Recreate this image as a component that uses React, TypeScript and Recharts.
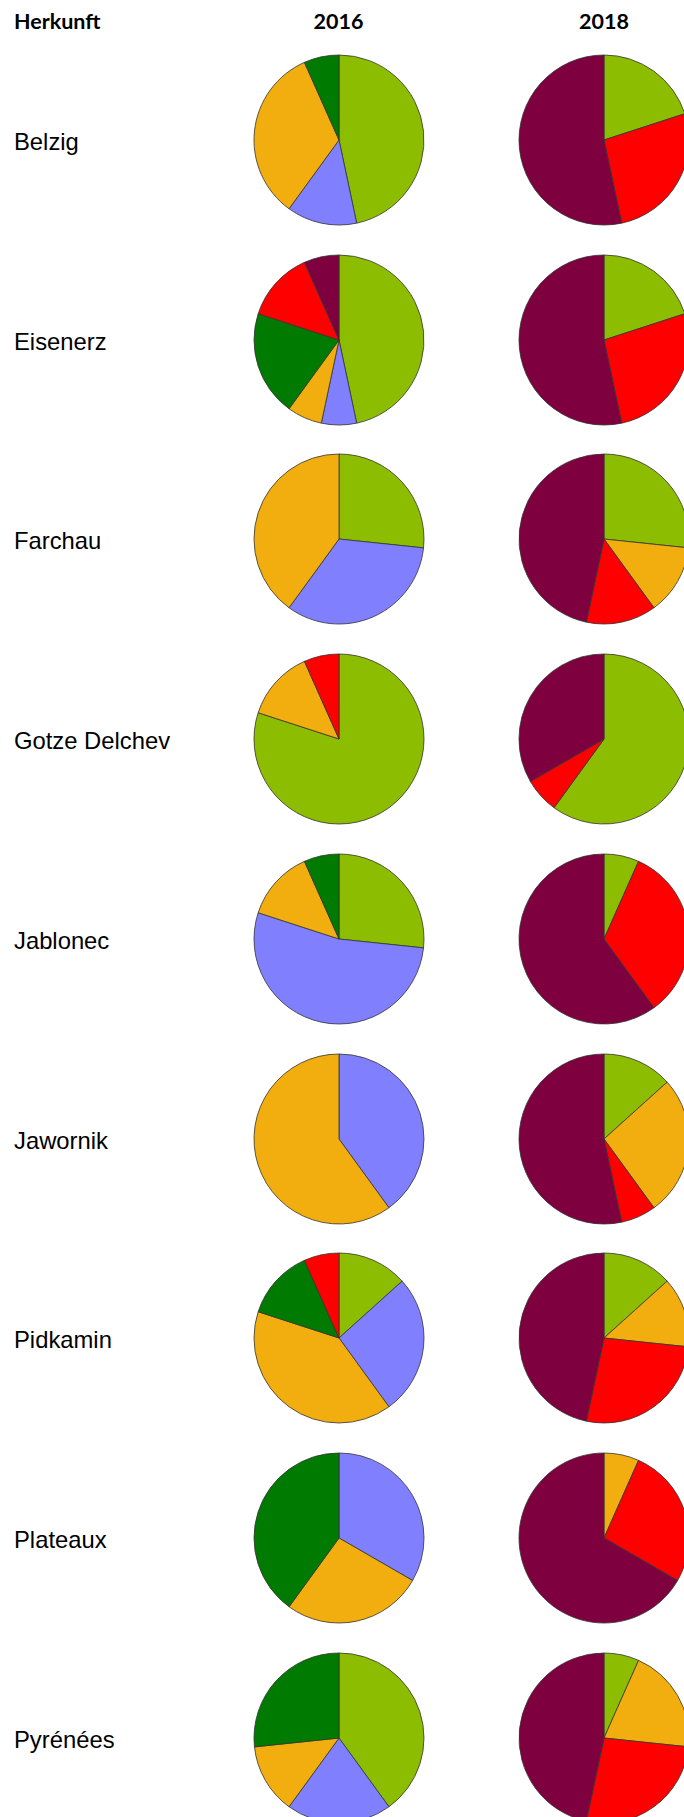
import React from "react";
import { PieChart, Pie, Cell } from "recharts";

const herkunft = [
  "Belzig",
  "Eisenerz",
  "Farchau",
  "Gotze Delchev",
  "Jablonec",
  "Jawornik",
  "Pidkamin",
  "Plateaux",
  "Pyrénées",
];

const jahre = ["2016", "2018"];

const klassen = ["Klasse 1", "Klasse 2", "Klasse 3", "Klasse 4", "Klasse 5", "Klasse 6"];
const farben = ["#8CBD00", "#8080FF", "#F2AE0E", "#007A00", "#FF0000", "#7F003F"];

// 2016, one value per Herkunft
const hellgruen2016 = [7, 7, 4, 12, 4, 0, 2, 0, 6];
const blau2016 = [2, 1, 5, 0, 8, 6, 4, 5, 3];
const orange2016 = [5, 1, 6, 2, 2, 9, 6, 4, 2];
const dunkelgruen2016 = [1, 3, 0, 0, 1, 0, 2, 6, 4];
const rot2016 = [0, 2, 0, 1, 0, 0, 1, 0, 0];
const bordeaux2016 = [0, 1, 0, 0, 0, 0, 0, 0, 0];

// 2018
const hellgruen2018 = [3, 3, 4, 9, 1, 2, 2, 0, 1];
const blau2018 = [0, 0, 0, 0, 0, 0, 0, 0, 0];
const orange2018 = [0, 0, 2, 0, 0, 4, 2, 1, 3];
const dunkelgruen2018 = [0, 0, 0, 0, 0, 0, 0, 0, 0];
const rot2018 = [4, 4, 2, 1, 5, 1, 4, 4, 4];
const bordeaux2018 = [8, 8, 7, 5, 9, 8, 7, 10, 7];

const serien: Record<string, number[][]> = {
  "2016": [hellgruen2016, blau2016, orange2016, dunkelgruen2016, rot2016, bordeaux2016],
  "2018": [hellgruen2018, blau2018, orange2018, dunkelgruen2018, rot2018, bordeaux2018],
};

function sliceData(jahr: string, row: number) {
  return serien[jahr]
    .map((s, k) => ({ name: klassen[k], value: s[row], fill: farben[k] }))
    .filter((d) => d.value > 0);
}

const ROW_TOP = 40;
const ROW_STEP = 199.7;
const PIE_BOX = 200;
const colCenters = [338.5, 604];

function OnePie({ jahr, row }: { jahr: string; row: number }) {
  const data = sliceData(jahr, row);
  return (
    <PieChart width={PIE_BOX} height={PIE_BOX} margin={{ top: 0, right: 0, bottom: 0, left: 0 }}>
      <Pie
        data={data}
        dataKey="value"
        nameKey="name"
        cx="50%"
        cy="50%"
        outerRadius={85}
        startAngle={90}
        endAngle={-270}
        stroke="#333"
        strokeWidth={0.8}
        isAnimationActive={false}
      >
        {data.map((d) => (
          <Cell key={d.name} fill={d.fill} />
        ))}
      </Pie>
    </PieChart>
  );
}

export default function App() {
  return (
    <div
      style={{
        position: "absolute",
        left: 0,
        top: 0,
        width: 684,
        height: 1817,
        overflow: "hidden",
        background: "#fff",
      }}
    >
      <div
        style={{
          position: "absolute",
          left: 14,
          top: 7,
          fontFamily: "Lato, sans-serif",
          fontWeight: 700,
          fontSize: 21.5,
          lineHeight: "28px",
          color: "#000",
        }}
      >
        Herkunft
      </div>
      {jahre.map((j, c) => (
        <div
          key={j}
          style={{
            position: "absolute",
            left: colCenters[c] - 50,
            width: 100,
            top: 7,
            textAlign: "center",
            fontFamily: "Lato, sans-serif",
            fontWeight: 700,
            fontSize: 21.5,
            lineHeight: "28px",
            color: "#000",
          }}
        >
          {j}
        </div>
      ))}
      {herkunft.map((h, i) => (
        <div
          key={h}
          style={{
            position: "absolute",
            left: 0,
            top: ROW_TOP + ROW_STEP * i,
            width: 684,
            height: PIE_BOX,
          }}
        >
          <div
            style={{
              position: "absolute",
              left: 14,
              top: 2,
              height: PIE_BOX,
              lineHeight: PIE_BOX + "px",
              fontFamily: "'Liberation Sans', Arial, sans-serif",
              fontSize: 23.8,
              color: "#000",
              whiteSpace: "nowrap",
            }}
          >
            {h}
          </div>
          {jahre.map((j, c) => (
            <div
              key={j}
              style={{ position: "absolute", left: colCenters[c] - PIE_BOX / 2, top: 0 }}
            >
              <OnePie jahr={j} row={i} />
            </div>
          ))}
        </div>
      ))}
    </div>
  );
}
